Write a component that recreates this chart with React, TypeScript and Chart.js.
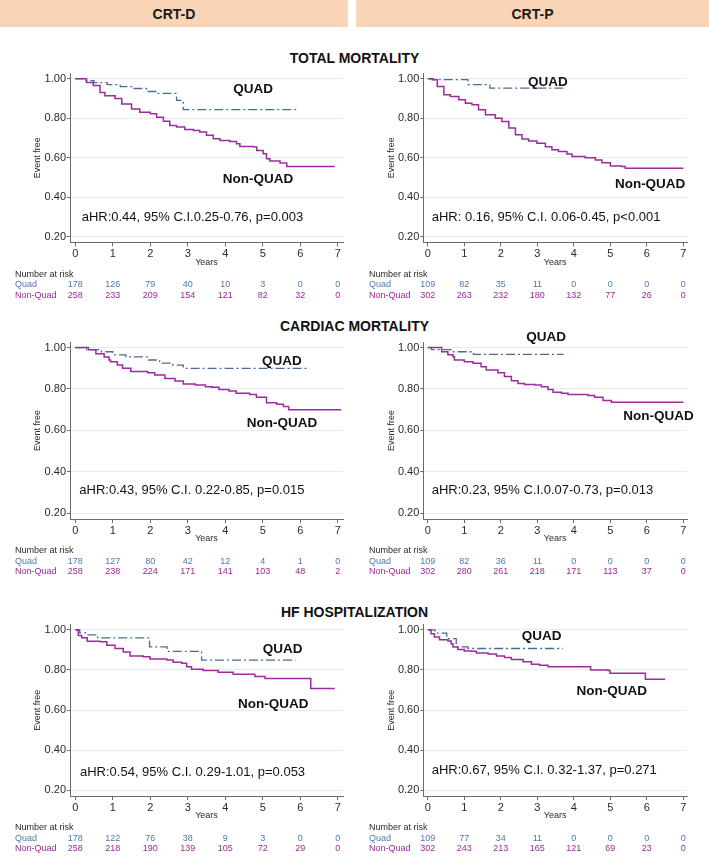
import React, { useEffect, useRef } from 'react';
import { Chart, registerables } from 'chart.js';
Chart.register(...registerables);

const FONT = "Arial, 'Liberation Sans', Helvetica, sans-serif";

// ---------- axis ticks ----------
const yearTicks = [0, 1, 2, 3, 4, 5, 6, 7];
const survTicks = [0.2, 0.4, 0.6, 0.8, 1.0];

// ---------- Kaplan-Meier curves [years, event-free] ----------
const totalD_quad = [[0,1],[0.25,0.99],[0.5,0.98],[0.85,0.97],[1.2,0.96],[1.55,0.95],[1.9,0.935],[2.2,0.925],[2.7,0.89],[2.88,0.843],[5.9,0.843]];
const totalD_non = [[0,1],[0.3,0.98],[0.48,0.965],[0.66,0.93],[0.79,0.914],[1.06,0.9],[1.24,0.872],[1.5,0.847],[1.72,0.83],[2.0,0.822],[2.17,0.805],[2.35,0.785],[2.52,0.763],[2.7,0.755],[2.92,0.743],[3.15,0.738],[3.32,0.73],[3.5,0.713],[3.68,0.696],[3.86,0.687],[4.12,0.682],[4.3,0.67],[4.39,0.657],[4.75,0.654],[4.84,0.637],[5.01,0.62],[5.1,0.595],[5.19,0.583],[5.46,0.573],[5.64,0.556],[6.92,0.556]];
const totalP_quad = [[0,1],[0.15,0.995],[1.1,0.97],[1.7,0.952],[3.75,0.952]];
const totalP_non = [[0,1],[0.12,0.994],[0.26,0.96],[0.44,0.918],[0.62,0.91],[0.85,0.893],[1.03,0.876],[1.21,0.868],[1.39,0.842],[1.58,0.817],[1.85,0.8],[2.03,0.783],[2.22,0.75],[2.4,0.716],[2.58,0.694],[2.76,0.685],[2.99,0.673],[3.22,0.656],[3.4,0.64],[3.58,0.631],[3.81,0.619],[3.95,0.606],[4.31,0.6],[4.59,0.589],[4.77,0.575],[5.0,0.558],[5.31,0.555],[5.41,0.547],[7.0,0.547]];
const cardD_quad = [[0,1],[0.3,0.99],[0.7,0.98],[1.0,0.965],[1.35,0.955],[1.95,0.94],[2.25,0.925],[2.6,0.915],[2.88,0.9],[6.25,0.9]];
const cardD_non = [[0,1],[0.35,0.99],[0.55,0.97],[0.77,0.955],[0.9,0.94],[0.94,0.932],[1.12,0.916],[1.26,0.9],[1.48,0.884],[1.93,0.879],[2.12,0.868],[2.39,0.851],[2.66,0.839],[2.88,0.824],[3.2,0.819],[3.47,0.811],[3.65,0.808],[3.83,0.798],[4.1,0.79],[4.29,0.779],[4.65,0.774],[4.83,0.76],[5.1,0.734],[5.37,0.726],[5.55,0.715],[5.69,0.7],[7.09,0.7]];
const cardP_quad = [[0,1],[0.1,0.99],[0.7,0.98],[1.25,0.967],[3.72,0.967]];
const cardP_non = [[0,1],[0.38,0.98],[0.55,0.965],[0.69,0.956],[0.73,0.94],[1.0,0.932],[1.24,0.924],[1.46,0.908],[1.6,0.892],[1.92,0.879],[2.1,0.86],[2.29,0.84],[2.47,0.827],[2.65,0.822],[2.93,0.819],[3.11,0.811],[3.29,0.798],[3.43,0.784],[3.66,0.779],[3.84,0.773],[4.39,0.769],[4.57,0.76],[4.8,0.744],[5.03,0.736],[7.0,0.736]];
const hfD_quad = [[0,1],[0.12,0.985],[0.3,0.975],[0.6,0.96],[1.98,0.915],[2.45,0.893],[3.37,0.849],[5.87,0.849]];
const hfD_non = [[0,1],[0.08,0.972],[0.17,0.96],[0.32,0.943],[0.66,0.94],[0.84,0.923],[1.06,0.907],[1.28,0.89],[1.46,0.869],[1.81,0.866],[1.99,0.854],[2.44,0.849],[2.61,0.838],[2.84,0.833],[2.97,0.816],[3.1,0.803],[3.41,0.797],[3.81,0.789],[4.21,0.779],[4.79,0.767],[5.06,0.757],[6.28,0.707],[6.92,0.707]];
const hfP_quad = [[0,1],[0.2,0.984],[0.52,0.956],[0.78,0.915],[1.1,0.907],[3.7,0.907]];
const hfP_non = [[0,1],[0.09,0.98],[0.18,0.964],[0.32,0.951],[0.55,0.944],[0.64,0.931],[0.69,0.915],[0.82,0.902],[1.0,0.895],[1.19,0.893],[1.33,0.885],[1.65,0.879],[1.88,0.869],[2.1,0.862],[2.29,0.852],[2.61,0.841],[2.84,0.828],[3.06,0.823],[3.29,0.816],[4.46,0.8],[4.94,0.797],[4.99,0.784],[5.96,0.754],[6.5,0.754]];

// ---------- numbers at risk (years 0..7) ----------
const totalD_riskQuad = [178, 126, 79, 40, 10, 3, 0, 0];
const totalD_riskNon = [258, 233, 209, 154, 121, 82, 32, 0];
const totalP_riskQuad = [109, 82, 35, 11, 0, 0, 0, 0];
const totalP_riskNon = [302, 263, 232, 180, 132, 77, 26, 0];
const cardD_riskQuad = [178, 127, 80, 42, 12, 4, 1, 0];
const cardD_riskNon = [258, 238, 224, 171, 141, 103, 48, 2];
const cardP_riskQuad = [109, 82, 36, 11, 0, 0, 0, 0];
const cardP_riskNon = [302, 280, 261, 218, 171, 113, 37, 0];
const hfD_riskQuad = [178, 122, 76, 38, 9, 3, 0, 0];
const hfD_riskNon = [258, 218, 190, 139, 105, 72, 29, 0];
const hfP_riskQuad = [109, 77, 34, 11, 0, 0, 0, 0];
const hfP_riskNon = [302, 243, 213, 165, 121, 69, 23, 0];

// ---------- texts ----------
const columnHeaders = ['CRT-D', 'CRT-P'];
const sectionTitles = ['TOTAL MORTALITY', 'CARDIAC MORTALITY', 'HF HOSPITALIZATION'];
const hrTexts = [
  'aHR:0.44, 95% C.I.0.25-0.76, p=0.003',
  'aHR: 0.16, 95% C.I. 0.06-0.45, p<0.001',
  'aHR:0.43, 95% C.I. 0.22-0.85, p=0.015',
  'aHR:0.23, 95% C.I.0.07-0.73, p=0.013',
  'aHR:0.54, 95% C.I. 0.29-1.01, p=0.053',
  'aHR:0.67, 95% C.I. 0.32-1.37, p=0.271',
];

// ---------- styles ----------
const QUAD_LINE = '#4B6B95';
const NON_LINE = '#9B2C9D';
const QUAD_TEXT = '#4C79AE';
const NON_TEXT = '#9C2A97';
const AXIS = '#6a6a6a';
const GRID = '#E4ECEF';
const TXT = '#2a2a2a';
const HEADER_BG = '#F9D4B6';

const LEFT = { cx: 0, cw: 354, l: 70, r: 343, xr: [-0.141, 7.14] };
const RIGHT = { cx: 354, cw: 355, l: 423.3, r: 687, xr: [-0.123, 7.1] };
const ROWS = [
  { cy: 36, ch: 274, t: 73.3, b: 242.3 },
  { cy: 316, ch: 274, t: 342, b: 519 },
  { cy: 598, ch: 258, t: 624.4, b: 796 },
];

const panels = [
  { col: LEFT, row: ROWS[0], quad: totalD_quad, non: totalD_non, rq: totalD_riskQuad, rn: totalD_riskNon, hr: hrTexts[0], qPos: [4.74, 0.946], nPos: [4.87, 0.491], hPos: [0.17, 0.298] },
  { col: RIGHT, row: ROWS[0], quad: totalP_quad, non: totalP_non, rq: totalP_riskQuad, rn: totalP_riskNon, hr: hrTexts[1], qPos: [3.29, 0.983], nPos: [6.09, 0.465], hPos: [0.107, 0.296] },
  { col: LEFT, row: ROWS[1], quad: cardD_quad, non: cardD_non, rq: cardD_riskQuad, rn: cardD_riskNon, hr: hrTexts[2], qPos: [5.51, 0.935], nPos: [5.51, 0.634], hPos: [0.107, 0.309] },
  { col: RIGHT, row: ROWS[1], quad: cardP_quad, non: cardP_non, rq: cardP_riskQuad, rn: cardP_riskNon, hr: hrTexts[3], qPos: [3.24, 1.048], nPos: [6.32, 0.67], hPos: [0.107, 0.309] },
  { col: LEFT, row: ROWS[2], quad: hfD_quad, non: hfD_non, rq: hfD_riskQuad, rn: hfD_riskNon, hr: hrTexts[4], qPos: [5.53, 0.904], nPos: [5.28, 0.631], hPos: [0.125, 0.291] },
  { col: RIGHT, row: ROWS[2], quad: hfP_quad, non: hfP_non, rq: hfP_riskQuad, rn: hfP_riskNon, hr: hrTexts[5], qPos: [3.12, 0.966], nPos: [5.04, 0.692], hPos: [0.107, 0.299] },
];

function Panel({ p }: { p: any }) {
  const ref = useRef<HTMLCanvasElement>(null);
  useEffect(() => {
    const canvas = ref.current!;
    const { col, row } = p;
    const xAxisH = 26;
    const yAxisW = col.l - col.cx;
    const padTop = row.t - row.cy;
    const padRight = col.cx + col.cw - col.r;
    const padBottom = row.ch - (row.b - row.cy) - xAxisH;

    const annot = {
      id: 'annot',
      afterDraw(chart: any) {
        const ctx = chart.ctx;
        const xs = chart.scales.x;
        const ys = chart.scales.y;
        const ca = chart.chartArea;
        ctx.save();
        ctx.fillStyle = '#111';
        ctx.textBaseline = 'middle';
        ctx.textAlign = 'center';
        ctx.font = `bold 13.5px ${FONT}`;
        ctx.fillText('QUAD', xs.getPixelForValue(p.qPos[0]), ys.getPixelForValue(p.qPos[1]));
        ctx.fillText('Non-QUAD', xs.getPixelForValue(p.nPos[0]), ys.getPixelForValue(p.nPos[1]));
        ctx.textAlign = 'left';
        ctx.font = `13px ${FONT}`;
        ctx.fillText(p.hr, xs.getPixelForValue(p.hPos[0]), ys.getPixelForValue(p.hPos[1]));
        // number at risk table
        ctx.font = `9px ${FONT}`;
        ctx.fillStyle = TXT;
        ctx.fillText('Number at risk', 15, ca.bottom + 32);
        ctx.fillStyle = QUAD_TEXT;
        ctx.fillText('Quad', 15, ca.bottom + 42.5);
        ctx.fillStyle = NON_TEXT;
        ctx.fillText('Non-Quad', 15, ca.bottom + 53);
        ctx.textAlign = 'center';
        yearTicks.forEach((yr, i) => {
          const x = xs.getPixelForValue(yr);
          ctx.fillStyle = QUAD_TEXT;
          ctx.fillText(String(p.rq[i]), x, ca.bottom + 42.5);
          ctx.fillStyle = NON_TEXT;
          ctx.fillText(String(p.rn[i]), x, ca.bottom + 53);
        });
        ctx.restore();
      },
    };

    const chart = new Chart(canvas, {
      type: 'line',
      data: {
        datasets: [
          {
            label: 'Non-Quad',
            data: p.non.map((d: number[]) => ({ x: d[0], y: d[1] })),
            borderColor: NON_LINE,
            borderWidth: 1.5,
            stepped: true,
            pointRadius: 0,
            fill: false,
          },
          {
            label: 'Quad',
            data: p.quad.map((d: number[]) => ({ x: d[0], y: d[1] })),
            borderColor: QUAD_LINE,
            borderWidth: 1.3,
            borderDash: [9, 3, 2, 3],
            stepped: true,
            pointRadius: 0,
            fill: false,
          },
        ],
      },
      options: {
        animation: false,
        responsive: false,
        events: [],
        layout: { padding: { left: 0, top: padTop, right: padRight, bottom: padBottom } },
        plugins: { legend: { display: false }, tooltip: { enabled: false }, title: { display: false } },
        scales: {
          x: {
            type: 'linear',
            min: col.xr[0],
            max: col.xr[1],
            afterBuildTicks: (s: any) => { s.ticks = yearTicks.map((v) => ({ value: v })); },
            afterFit: (s: any) => { s.height = xAxisH; },
            ticks: { callback: (v: any) => String(v), font: { family: FONT, size: 11 }, color: TXT, padding: 1, maxRotation: 0, autoSkip: false },
            grid: { drawOnChartArea: false, drawTicks: true, tickLength: 4, tickColor: AXIS, color: AXIS },
            border: { display: true, color: AXIS, width: 1 },
            title: { display: true, text: 'Years', font: { family: FONT, size: 9 }, color: TXT, padding: { top: 0, bottom: 0.6 } },
          },
          y: {
            type: 'linear',
            min: 0.172,
            max: 1.027,
            afterBuildTicks: (s: any) => { s.ticks = survTicks.map((v) => ({ value: v })); },
            afterFit: (s: any) => { s.width = yAxisW; },
            ticks: { callback: (v: any) => Number(v).toFixed(2), font: { family: FONT, size: 11 }, color: TXT, padding: 1, autoSkip: false },
            grid: { color: GRID, tickColor: AXIS, drawTicks: true, tickLength: 3 },
            border: { display: true, color: AXIS, width: 1 },
            title: { display: true, text: 'Event free', font: { family: FONT, size: 9 }, color: TXT, padding: { top: 32, bottom: 0 } },
          },
        },
      } as any,
      plugins: [annot],
    });
    return () => chart.destroy();
  }, []);
  const { col, row } = p;
  return (
    <canvas
      ref={ref}
      width={col.cw}
      height={row.ch}
      style={{ position: 'absolute', left: col.cx, top: row.cy, width: col.cw, height: row.ch }}
    />
  );
}

const titleY = [58, 326, 612.3];

export default function App() {
  return (
    <div style={{ position: 'absolute', left: 0, top: 0, width: 709, height: 856, background: '#fff', fontFamily: FONT, overflow: 'hidden' }}>
      <div style={{ position: 'absolute', left: 0, top: 0, width: 348, height: 27, background: HEADER_BG, display: 'flex', alignItems: 'center', justifyContent: 'center', fontWeight: 'bold', fontSize: 14, color: '#1a1a1a' }}>{columnHeaders[0]}</div>
      <div style={{ position: 'absolute', left: 356, top: 0, width: 353, height: 27, background: HEADER_BG, display: 'flex', alignItems: 'center', justifyContent: 'center', fontWeight: 'bold', fontSize: 14, color: '#1a1a1a' }}>{columnHeaders[1]}</div>
      {sectionTitles.map((t, i) => (
        <div key={t} style={{ position: 'absolute', left: 0, width: 709, top: titleY[i] - 8, height: 16, lineHeight: '16px', textAlign: 'center', fontWeight: 'bold', fontSize: 14, color: '#111' }}>{t}</div>
      ))}
      {panels.map((p, i) => <Panel key={i} p={p} />)}
    </div>
  );
}
